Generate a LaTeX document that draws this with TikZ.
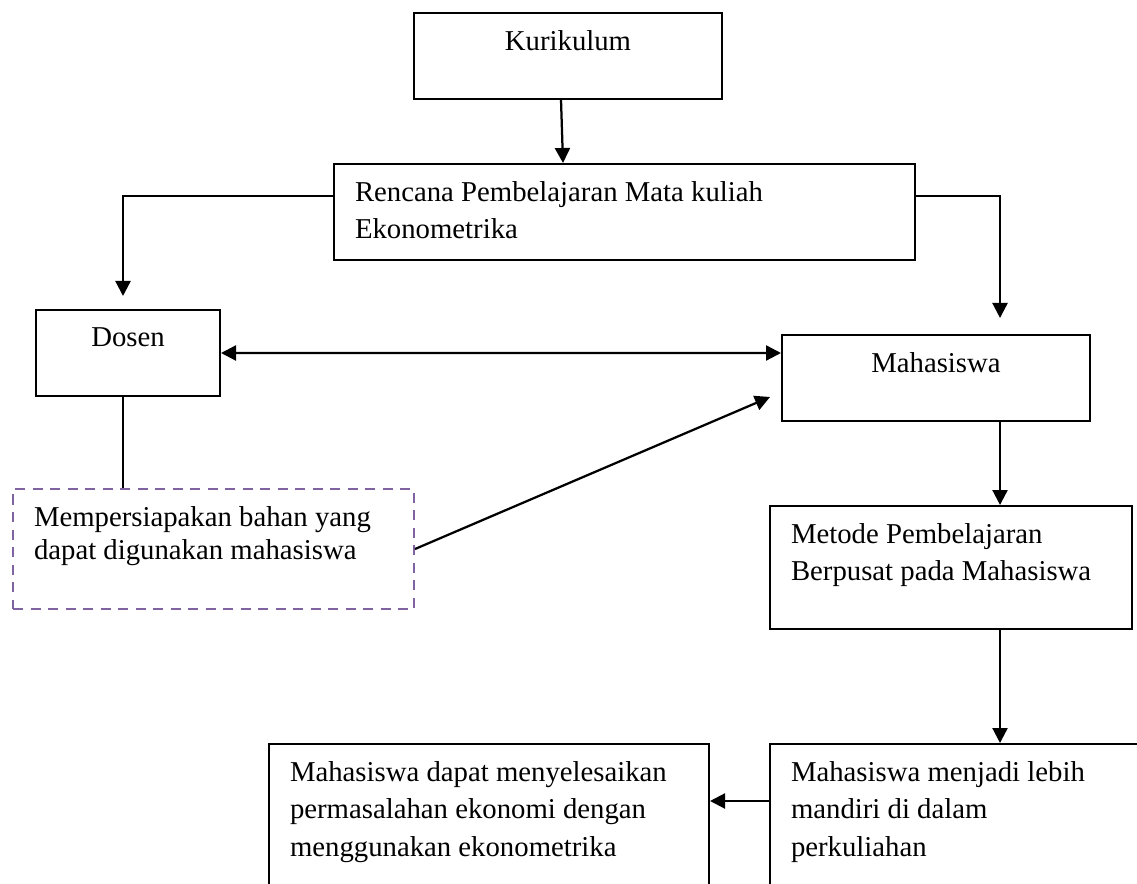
\documentclass[tikz,border=0pt]{standalone}
\usepackage{fontspec}
\setmainfont{Liberation Serif}
\usetikzlibrary{arrows.meta}

\definecolor{dashpurple}{HTML}{8064A2}
% text held at the top of each box
\newcommand{\boxtext}[3]{\parbox[t][#2][t]{#1}{\raggedright #3}}

\begin{document}
\begin{tikzpicture}[
        x=0.4pt, y=-0.4pt,
        box/.style={draw, line width=0.8pt, anchor=north west, inner xsep=8.4pt, inner ysep=7pt,
            font=\fontsize{11.5}{15}\selectfont}, % caixas normais
        dashbox/.style={box, draw=dashpurple, dash pattern=on 4pt off 3pt,
            font=\fontsize{11.5}{13.2}\selectfont}, % caixa tracejada
        arr/.style={line width=0.9pt, -{Triangle[length=6pt,width=6pt]}},
        both/.style={line width=0.9pt, {Triangle[length=6pt,width=6pt]}-{Triangle[length=6pt,width=6pt]}}
    ]
    \useasboundingbox (0,0) rectangle (1137,884);
    \clip (0,0) rectangle (1137,884);

    \node[box] (kur) at (413,12) {\boxtext{106.4pt}{20.4pt}{\centering Kurikulum}};
    \node[box] (ren) at (333,163) {\boxtext{215.6pt}{24.4pt}{Rencana Pembelajaran Mata kuliah\\Ekonometrika}};
    \node[box] (dos) at (35,309) {\boxtext{56.8pt}{20.4pt}{\centering Dosen}};
    \node[box] (mah) at (781,334) {\boxtext{106.4pt}{20.4pt}{\centering Mahasiswa}};
    \node[dashbox] (prep) at (12,488) {\boxtext{143.6pt}{34pt}{Mempersiapakan bahan yang\\dapat digunakan mahasiswa}};
    \node[box] (met) at (769,505) {\boxtext{128pt}{35.2pt}{Metode Pembelajaran\\Berpusat pada Mahasiswa}};
    \node[box] (ind) at (769,743) {\boxtext{135.6pt}{48.8pt}{Mahasiswa menjadi lebih\\mandiri di dalam\\perkuliahan}};
    \node[box] (sol) at (268,743) {\boxtext{159.2pt}{48.8pt}{Mahasiswa dapat menyelesaikan\\permasalahan ekonomi dengan\\menggunakan ekonometrika}};

    \draw[arr] ([xshift=-2.8pt]kur.south) -- ([xshift=-24.6pt]ren.north);
    \draw[arr] ([yshift=6.4pt]ren.west) -| ([xshift=-2pt,yshift=5.2pt]dos.north);
    \draw[arr] ([yshift=6.4pt]ren.east) -| ([xshift=25.6pt,yshift=6.4pt]mah.north);
    \draw[both] (dos.east) -- ([yshift=10pt]mah.west);
    \draw[line width=0.9pt] ([xshift=-2pt]dos.south) -- ([xshift=-2pt]dos.south |- prep.north);
    \draw[arr] (prep.east) -- ([xshift=-4.4pt,yshift=10pt]mah.south west);
    \draw[arr] ([xshift=25.6pt]mah.south) -- ([xshift=25.6pt]mah.south |- met.north);
    \draw[arr] ([xshift=19.6pt]met.south) -- ([xshift=19.6pt]met.south |- ind.north);
    \draw[arr] ([yshift=8.6pt]ind.west) -- ([yshift=8.6pt]ind.west -| sol.east);
\end{tikzpicture}
\end{document}
